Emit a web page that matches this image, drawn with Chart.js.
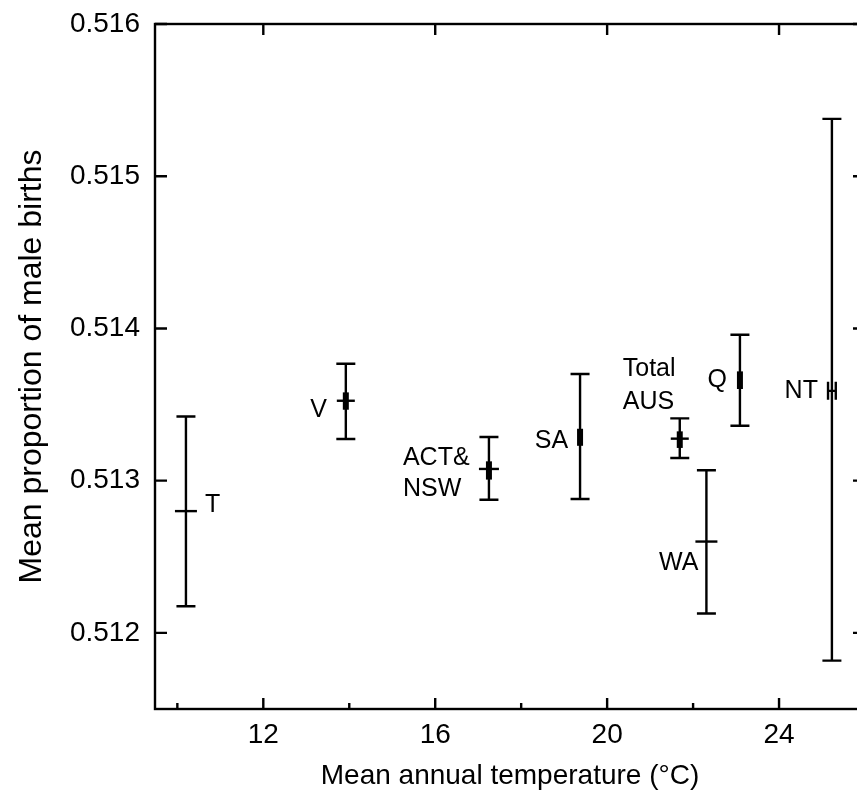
<!DOCTYPE html>
<html>
<head>
<meta charset="utf-8">
<script src="https://cdn.jsdelivr.net/npm/chart.js@4.4.1/dist/chart.umd.min.js"></script>
<style>
  html, body { margin: 0; padding: 0; background: #fff; overflow: hidden; }
  #wrap { width: 857px; height: 805px; overflow: hidden; }
</style>
</head>
<body>
<div id="wrap"><canvas id="chart" width="880" height="805"></canvas></div>
<script>
// datos
const regiones = ['T', 'V', 'ACT&\nNSW', 'SA', 'Total\nAUS', 'WA', 'Q', 'NT'];
const temperaturas = [10.2, 13.92, 17.25, 19.37, 21.69, 22.31, 23.09, 25.23];
const medias = [0.51280, 0.513525, 0.513077, 0.513286, 0.513276, 0.512600, 0.513660, 0.513590];
const limiteSup = [0.513422, 0.513768, 0.513287, 0.513701, 0.513409, 0.513068, 0.513959, 0.515377];
const limiteInf = [0.512175, 0.513274, 0.512875, 0.512880, 0.513149, 0.512127, 0.513361, 0.511818];
const errorSup = [null, 0.513580, 0.513127, 0.513341, 0.513324, null, 0.513718, null];
const errorInf = [null, 0.513466, 0.513007, 0.513229, 0.513215, null, 0.513602, null];
const errorX = [0, 0, 0, 0, 0, 0, 0, 0.09];

const ticksX = [12, 16, 20, 24];
const ticksXMenores = [10, 14, 18, 22];
const ticksY = [0.512, 0.513, 0.514, 0.515, 0.516];

const FUENTE = '"Liberation Sans", Arial, sans-serif';

// posición de cada etiqueta respecto a su barra (px)
const etiquetas = [
  { align: 'left',  dx: 19,  dy: [-6] },
  { align: 'right', dx: -19, dy: [9] },
  { align: 'left',  dx: -86, dy: [-11, 20] },
  { align: 'right', dx: -12, dy: [4] },
  { align: 'left',  dx: -57, dy: [-70, -37] },
  { align: 'right', dx: -8,  dy: [22] },
  { align: 'right', dx: -13, dy: [0] },
  { align: 'right', dx: -14, dy: [0] }
];

// barras de error, marcas internas y etiquetas
const barrasError = {
  id: 'barrasError',
  afterDatasetsDraw(chart) {
    const ctx = chart.ctx;
    const xs = chart.scales.x, ys = chart.scales.y;
    ctx.save();
    ctx.strokeStyle = '#000';
    ctx.fillStyle = '#000';
    temperaturas.forEach((t, i) => {
      const x = xs.getPixelForValue(t);
      const yHi = ys.getPixelForValue(limiteSup[i]);
      const yLo = ys.getPixelForValue(limiteInf[i]);
      ctx.lineWidth = 2.4;
      ctx.beginPath();
      ctx.moveTo(x, yHi); ctx.lineTo(x, yLo);
      ctx.moveTo(x - 9.5, yHi); ctx.lineTo(x + 9.5, yHi);
      ctx.moveTo(x - 9.5, yLo); ctx.lineTo(x + 9.5, yLo);
      ctx.stroke();

      if (errorSup[i] !== null) {
        const a = ys.getPixelForValue(errorSup[i]);
        const b = ys.getPixelForValue(errorInf[i]);
        ctx.lineWidth = 6;
        ctx.beginPath();
        ctx.moveTo(x, a); ctx.lineTo(x, b);
        ctx.stroke();
      }

      if (errorX[i] > 0) {
        const ym = ys.getPixelForValue(medias[i]);
        const x1 = xs.getPixelForValue(t - errorX[i]);
        const x2 = xs.getPixelForValue(t + errorX[i]);
        ctx.lineWidth = 2.4;
        ctx.beginPath();
        ctx.moveTo(x1, ym); ctx.lineTo(x2, ym);
        ctx.moveTo(x1, ym - 9); ctx.lineTo(x1, ym + 9);
        ctx.moveTo(x2, ym - 9); ctx.lineTo(x2, ym + 9);
        ctx.stroke();
      }

      // etiqueta
      const e = etiquetas[i];
      const ym = ys.getPixelForValue(medias[i]);
      ctx.font = '25px ' + FUENTE;
      ctx.textAlign = e.align;
      ctx.textBaseline = 'middle';
      regiones[i].split('\n').forEach((linea, k) => {
        ctx.fillText(linea, x + e.dx, ym + e.dy[k]);
      });
    });
    ctx.restore();
  }
};

// marco y marcas hacia dentro
const marco = {
  id: 'marco',
  afterDraw(chart) {
    const ctx = chart.ctx;
    const a = chart.chartArea;
    const xs = chart.scales.x, ys = chart.scales.y;
    ctx.save();
    ctx.strokeStyle = '#000';
    ctx.lineWidth = 2.4;
    ctx.strokeRect(a.left, a.top, a.right - a.left, a.bottom - a.top);
    ctx.beginPath();
    ticksX.forEach(v => {
      const x = xs.getPixelForValue(v);
      ctx.moveTo(x, a.bottom); ctx.lineTo(x, a.bottom - 11);
      ctx.moveTo(x, a.top); ctx.lineTo(x, a.top + 11);
    });
    ticksXMenores.forEach(v => {
      const x = xs.getPixelForValue(v);
      ctx.moveTo(x, a.bottom); ctx.lineTo(x, a.bottom - 6);
    });
    ticksY.forEach(v => {
      const y = ys.getPixelForValue(v);
      ctx.moveTo(a.left, y); ctx.lineTo(a.left + 12, y);
      ctx.moveTo(a.right, y); ctx.lineTo(a.right - 12, y);
    });
    ctx.stroke();
    ctx.restore();
  }
};

const ctx = document.getElementById('chart').getContext('2d');
new Chart(ctx, {
  type: 'scatter',
  data: {
    datasets: [{
      data: temperaturas.map((t, i) => ({ x: t, y: medias[i] })),
      pointStyle: 'line',
      pointRadius: [11, 9, 10, 0, 9, 11, 0, 0],
      pointBorderWidth: 2.4,
      borderColor: '#000',
      backgroundColor: '#000'
    }]
  },
  options: {
    responsive: false,
    animation: false,
    devicePixelRatio: 1,
    layout: { padding: { top: 24, right: 15, left: 0, bottom: 0 } },
    plugins: {
      legend: { display: false },
      tooltip: { enabled: false }
    },
    scales: {
      x: {
        type: 'linear',
        min: 9.48,
        max: 26,
        afterBuildTicks: s => { s.ticks = ticksX.map(v => ({ value: v })); },
        afterFit: s => { s.height = 96; },
        grid: { display: false },
        border: { display: false },
        ticks: { color: '#000', font: { family: FUENTE, size: 28 }, padding: 1 },
        title: {
          display: true,
          text: 'Mean annual temperature (°C)',
          color: '#000',
          font: { family: FUENTE, size: 28 },
          padding: { top: 0, bottom: 12 }
        }
      },
      y: {
        min: 0.5115,
        max: 0.516,
        afterBuildTicks: s => { s.ticks = ticksY.map(v => ({ value: v })); },
        afterFit: s => { s.width = 155; },
        grid: { display: false },
        border: { display: false },
        ticks: {
          color: '#000',
          font: { family: FUENTE, size: 28 },
          padding: 7,
          callback: v => v.toFixed(3)
        },
        title: {
          display: true,
          text: 'Mean proportion of male births',
          color: '#000',
          font: { family: FUENTE, size: 32 },
          padding: { top: 13, bottom: 0 }
        }
      }
    }
  },
  plugins: [barrasError, marco]
});
</script>
</body>
</html>
